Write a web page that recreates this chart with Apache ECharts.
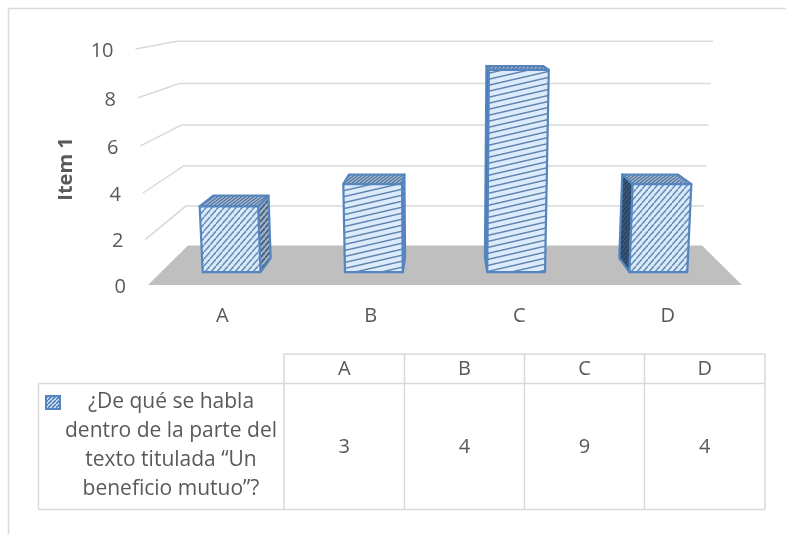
<!DOCTYPE html>
<html>
<head>
<meta charset="utf-8">
<style>html,body{margin:0;padding:0;background:#fff}#c{width:786px;height:534px}</style>
<script src="https://cdn.jsdelivr.net/npm/echarts@6/dist/echarts.min.js"></script>
</head>
<body>
<div id="c"></div>
<script>
const categories = ['A', 'B', 'C', 'D'];
const seriesValues = [3, 4, 9, 4];
const yTicks = [0, 2, 4, 6, 8, 10];
const seriesNameLines = ['¿De qué se habla', 'dentro de la parte del', 'texto titulada “Un', 'beneficio mutuo”?'];
const yAxisName = 'Item 1';

const FONT = '"Open Sans", "Noto Sans", sans-serif';
const TEXT = '#595959', RULE = '#d9d9d9', EDGE = '#5585c0';
const FS = 20;

function hatch(w, h, bg, line, lw) {
  const c = document.createElement('canvas');
  c.width = w; c.height = h;
  const g = c.getContext('2d');
  g.fillStyle = bg; g.fillRect(0, 0, w, h);
  g.strokeStyle = line; g.lineWidth = lw;
  for (let k = -1; k <= 1; k++) {
    g.beginPath(); g.moveTo(0, h + k * h); g.lineTo(w, k * h); g.stroke();
  }
  return { image: c, repeat: 'repeat' };
}
const FRONT_STEEP = hatch(6, 7, '#dcebf9', '#6a8fbb', 1.5);
const FRONT_FLAT = hatch(26, 6, '#dcebf9', '#5c82b0', 1.4);
const TOP = hatch(4, 3, '#a9bdd6', '#4f7198', 1.2);
const SIDE_RIGHT = hatch(5, 6, '#a3b1c2', '#3f5c80', 1.7);
const SIDE_LEFT = hatch(4, 5, '#3b5878', '#26405e', 1.4);
const frontByCategory = [FRONT_STEEP, FRONT_FLAT, FRONT_FLAT, FRONT_STEEP];

// Perspective depth planes: x and y scale toward the vanishing point
const VX = 445, VY = -8, TILT = 0.0042, SAG = 0.1;
const BAR_FRONT = { sx: 0.958, sy: 0.956 };
const BAR_BACK = { sx: 0.905, sy: 0.908 };
const WALL = { sx: 0.8655, sy: 0.8655 };
const AXIS = { sx: 1, sy: 1 };
function project(px, py, v, d) {
  return [
    VX + (px - VX) * d.sx * (1 + TILT * v),
    VY + (py - VY) * d.sy + SAG * v * (10 - v) * d.sy
  ];
}

function renderFloor(params, api) {
  const r = params.coordSys, y0 = api.coord([0, 0])[1];
  const L = r.x, R = r.x + r.width;
  return {
    type: 'polygon',
    shape: { points: [project(L, y0, 0, AXIS), project(R, y0, 0, AXIS), project(R, y0, 0, WALL), project(L, y0, 0, WALL)] },
    style: { fill: '#bfbfbf' }
  };
}
function renderGrid(params, api) {
  const v = api.value(0), r = params.coordSys, y = api.coord([0, v])[1];
  const L = r.x, R = r.x + r.width;
  return {
    type: 'polyline',
    shape: { points: [project(L, y, v, AXIS), project(L, y, v, WALL), project(R, y, v, WALL)] },
    style: { fill: 'none', stroke: '#d9d9d9', lineWidth: 1.5 }
  };
}
function renderTick(params, api) {
  const v = api.value(0), r = params.coordSys, y = api.coord([0, v])[1];
  const p = project(r.x, y, v, AXIS);
  return {
    type: 'text',
    x: p[0] - 22, y: p[1] + 2,
    style: { text: String(v), fill: TEXT, font: FS + 'px ' + FONT, align: 'right', verticalAlign: 'middle' }
  };
}
function renderBar(params, api) {
  const i = api.value(0), v = api.value(1);
  const cx = api.coord([i, 0])[0], y0 = api.coord([i, 0])[1], y1 = api.coord([i, v])[1];
  const half = api.size([1, 0])[0] * 0.203;
  const xl = cx - half, xr = cx + half;
  const fbl = project(xl, y0, 0, BAR_FRONT), fbr = project(xr, y0, 0, BAR_FRONT);
  const ftl = project(xl, y1, v, BAR_FRONT), ftr = project(xr, y1, v, BAR_FRONT);
  const bbl = project(xl, y0, 0, BAR_BACK), bbr = project(xr, y0, 0, BAR_BACK);
  const btl = project(xl, y1, v, BAR_BACK), btr = project(xr, y1, v, BAR_BACK);
  const face = (pts, fill) => ({
    type: 'polygon', shape: { points: pts },
    style: { fill, stroke: EDGE, lineWidth: 2.2, lineJoin: 'round' }
  });
  const children = [];
  if (btl[0] < ftl[0]) children.push(face([bbl, fbl, ftl, btl], SIDE_LEFT));
  if (btr[0] > ftr[0]) children.push(face([fbr, bbr, btr, ftr], SIDE_RIGHT));
  children.push(face([ftl, ftr, btr, btl], TOP));
  children.push(face([fbl, fbr, ftr, ftl], frontByCategory[i]));
  return { type: 'group', children };
}

// Data table
const colX = [284, 404.5, 524.5, 644.5, 765];
const tableTop = 354, headBottom = 383.5, tableBottom = 509.5, tableLeft = 38.5;
const rule = (x1, y1, x2, y2) => ({
  type: 'line', shape: { x1, y1, x2, y2 }, style: { stroke: RULE, lineWidth: 1.5 }
});
const label = (text, x, y, size) => ({
  type: 'text', x, y,
  style: { text, fill: TEXT, font: (size || FS) + 'px ' + FONT, align: 'center', verticalAlign: 'middle' }
});
const graphics = [
  rule(8.5, 8.5, 786, 8.5), rule(8.5, 8.5, 8.5, 534),
  rule(colX[0], tableTop, colX[4], tableTop),
  rule(tableLeft, headBottom, colX[4], headBottom),
  rule(tableLeft, tableBottom, colX[4], tableBottom),
  rule(tableLeft, headBottom, tableLeft, tableBottom)
];
colX.forEach(x => graphics.push(rule(x, tableTop, x, tableBottom)));
categories.forEach((c, i) => {
  const x = (colX[i] + colX[i + 1]) / 2;
  graphics.push(label(c, x, 369));
  graphics.push(label(String(seriesValues[i]), x, 447));
});
seriesNameLines.forEach((t, i) => graphics.push(label(t, 171, 402.5 + i * 29, 21)));
graphics.push({
  type: 'rect', shape: { x: 46, y: 396, width: 14, height: 13 },
  style: { fill: hatch(4, 4, '#dcebf9', '#4f7fb8', 1.6), stroke: EDGE, lineWidth: 2 }
});

const chart = echarts.init(document.getElementById('c'), null, { renderer: 'canvas' });
chart.setOption({
  animation: false,
  backgroundColor: '#ffffff',
  textStyle: { fontFamily: FONT },
  grid: { left: 148, right: 44, top: 49, bottom: 249, containLabel: false },
  xAxis: {
    type: 'category', data: categories,
    axisLine: { show: false }, axisTick: { show: false },
    axisLabel: { color: TEXT, fontSize: FS, fontFamily: FONT, margin: 21 }
  },
  yAxis: {
    type: 'value', min: 0, max: 10, interval: 2,
    name: yAxisName, nameLocation: 'middle', nameGap: 72, nameRotate: 90,
    nameTextStyle: { color: TEXT, fontSize: FS, fontWeight: 'bold', fontFamily: FONT, padding: [0, 4, 0, 0] },
    axisLine: { show: false }, axisTick: { show: false }, axisLabel: { show: false }, splitLine: { show: false }
  },
  graphic: graphics,
  series: [
    { type: 'custom', name: 'floor', z: 1, silent: true, clip: false, renderItem: renderFloor, data: [[0]], encode: { x: -1, y: -1 } },
    { type: 'custom', name: 'grid', z: 2, silent: true, clip: false, renderItem: renderGrid, data: yTicks.filter(v => v > 0).map(v => [v]), encode: { x: -1, y: -1 } },
    { type: 'custom', name: 'ticks', z: 3, silent: true, clip: false, renderItem: renderTick, data: yTicks.map(v => [v]), encode: { x: -1, y: -1 } },
    { type: 'custom', name: seriesNameLines.join(' '), z: 4, clip: false, renderItem: renderBar,
      data: seriesValues.map((v, i) => [i, v]), encode: { x: 0, y: 1 } }
  ]
});
</script>
</body>
</html>
